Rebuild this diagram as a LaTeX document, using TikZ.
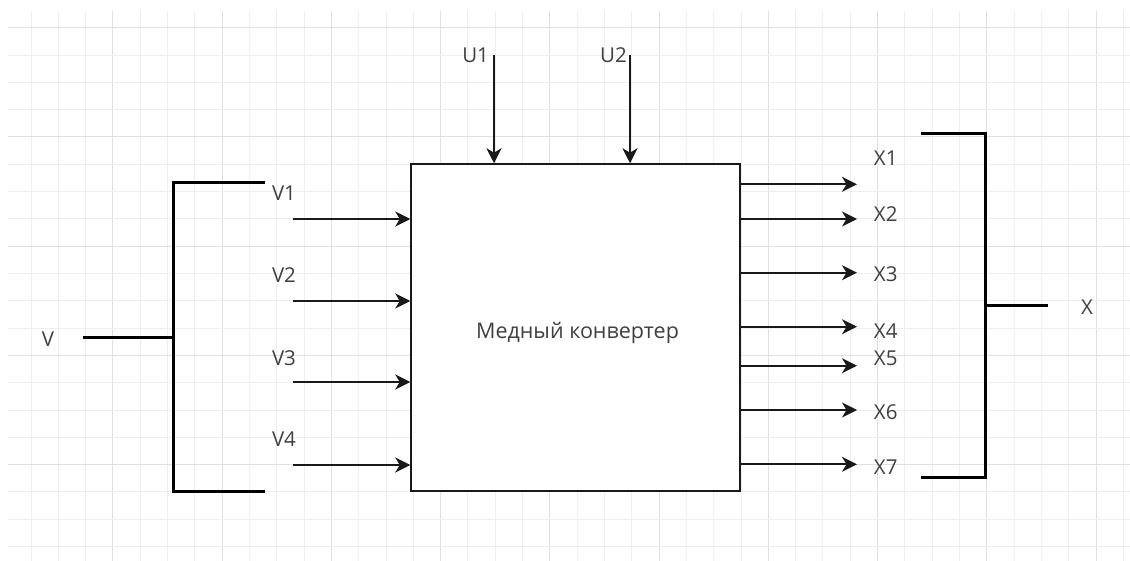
\documentclass[tikz,border=0pt]{standalone}
\usepackage{fontspec}
\setmainfont{Open Sans}
\usetikzlibrary{arrows.meta}
\definecolor{gridminor}{RGB}{238,238,238}
\definecolor{gridmajor}{RGB}{224,224,224}
\definecolor{txt}{RGB}{64,64,64}
\definecolor{ln}{RGB}{25,25,25}
\tikzset{
  minorline/.style={draw=gridminor, line width=1pt},
  majorline/.style={draw=gridmajor, line width=1pt},
  lbl/.style={text=txt, font=\fontsize{20.5}{24}\selectfont, anchor=base, inner sep=0pt},
  boxlbl/.style={text=txt, font=\fontsize{21.5}{24}\selectfont, anchor=base, inner sep=0pt},
  arr/.style={draw=ln, line width=1.8pt, -{Stealth[length=15pt,width=15pt,inset=4.5pt]}},
  bracket/.style={draw=black, line width=3pt},
  blockbox/.style={draw=ln, line width=1.5pt, fill=white, minimum width=329pt, minimum height=327pt, inner sep=0pt}
}
\begin{document}
\begin{tikzpicture}[x=1pt,y=-1pt]
\useasboundingbox (0,0) rectangle (1130,561);
\fill[white] (0,0) rectangle (1130,561);
% grid
\foreach \k in {0,...,40}{
  \pgfmathsetmacro\gx{31+27.31*\k}
  \pgfmathtruncatemacro\m{mod(\k,4)}
  \ifnum\m=3 \draw[majorline] (\gx,11) -- (\gx,561); \else \draw[minorline] (\gx,11) -- (\gx,561); \fi
}
\foreach \j in {0,...,19}{
  \pgfmathsetmacro\gy{27.7+27.31*\j}
  \pgfmathtruncatemacro\m{mod(\j,4)}
  \ifnum\m=0 \draw[majorline] (8,\gy) -- (1130,\gy); \else \draw[minorline] (8,\gy) -- (1130,\gy); \fi
}
% main block
\node[blockbox] (box) at (575.5,327.5) {};
\node[boxlbl] (boxtext) at (577.5,338) {Медный конвертер};
% left bracket
\draw[bracket] (265,183) -- (173,183) -- (173,491) -- (265,491);
\coordinate (vjoin) at (173,338);
\coordinate (vend) at (83,338);
\draw[bracket] (vend) -- (vjoin);
\node[lbl] (vl) at (48,347) {V};
% V inputs
\coordinate (v1s) at (293,219);
\coordinate (v2s) at (293,301);
\coordinate (v3s) at (293,382);
\coordinate (v4s) at (293,465);
\draw[arr] (v1s) -- (v1s -| box.west);
\draw[arr] (v2s) -- (v2s -| box.west);
\draw[arr] (v3s) -- (v3s -| box.west);
\draw[arr] (v4s) -- (v4s -| box.west);
\node[lbl] (v1l) at (284,200.7) {V1};
\node[lbl] (v2l) at (284,283) {V2};
\node[lbl] (v3l) at (284,365) {V3};
\node[lbl] (v4l) at (284,446.7) {V4};
% U inputs
\coordinate (u1s) at (494,55);
\coordinate (u2s) at (630,55);
\draw[arr] (u1s) -- (u1s |- box.north);
\draw[arr] (u2s) -- (u2s |- box.north);
\node[lbl] (u1l) at (475.6,63) {U1};
\node[lbl] (u2l) at (613.5,63) {U2};
% X outputs
\coordinate (x1e) at (857,184.3);
\coordinate (x2e) at (857,219);
\coordinate (x3e) at (857,272.7);
\coordinate (x4e) at (857,326.7);
\coordinate (x5e) at (857,365.7);
\coordinate (x6e) at (857,410);
\coordinate (x7e) at (857,464.3);
\foreach \c in {x1e,x2e,x3e,x4e,x5e,x6e,x7e}{
  \draw[arr] (\c -| box.east) -- (\c);
}
\node[lbl] (x1l) at (885.7,165.7) {X1};
\node[lbl] (x2l) at (885.7,221.7) {X2};
\node[lbl] (x3l) at (885.7,282) {X3};
\node[lbl] (x4l) at (885.7,338) {X4};
\node[lbl] (x5l) at (885.7,365) {X5};
\node[lbl] (x6l) at (885.7,419) {X6};
\node[lbl] (x7l) at (885.7,474) {X7};
% right bracket
\draw[bracket] (921,134) -- (985,134) -- (985,477) -- (921,477);
\coordinate (xjoin) at (985,306);
\coordinate (xend) at (1048,306);
\draw[bracket] (xjoin) -- (xend);
\node[lbl] (xl) at (1087,315) {X};
\end{tikzpicture}
\end{document}
